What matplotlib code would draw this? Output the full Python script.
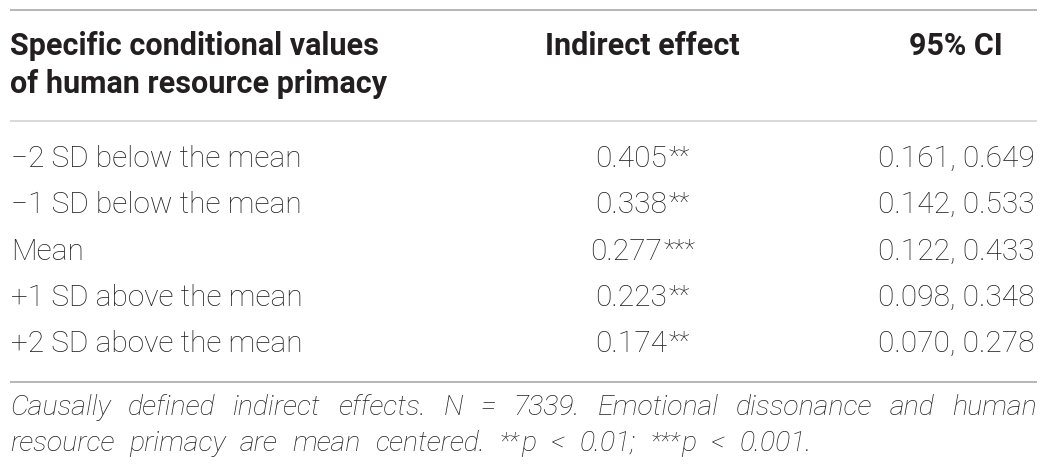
import matplotlib
matplotlib.use("Agg")
import matplotlib.pyplot as plt

# table content
header_first = ["Specific conditional values", "of human resource primacy"]
header_effect = "Indirect effect"
header_ci = "95% CI"
row_labels = ["\u22122 SD below the mean", "\u22121 SD below the mean", "Mean",
              "+1 SD above the mean", "+2 SD above the mean"]
indirect_effect = [0.405, 0.338, 0.277, 0.223, 0.174]
stars = ["**", "**", "***", "**", "**"]
ci_lower = [0.161, 0.142, 0.122, 0.098, 0.070]
ci_upper = [0.649, 0.533, 0.433, 0.348, 0.278]
note_lines = ["Causally defined indirect effects. N = 7339. Emotional dissonance and human",
              "resource primacy are mean centered. **p < 0.01; ***p < 0.001."]

FAM = ["Roboto", "DejaVu Sans"]
TXT = "#231f20"
FS = 21.5
FS_HEAD = 22
FS_NOTE = 20.5

W, H = 1050, 473
fig = plt.figure(figsize=(W / 100, H / 100), dpi=100)
ax = fig.add_axes([0, 0, 1, 1])
ax.set_xlim(0, W)
ax.set_ylim(H, 0)
ax.axis("off")
renderer = fig.canvas.get_renderer()

left, right = 10, 1037
col_effect, col_ci = 642, 956
y_head = [55, 93]
y_rows = [167, 213, 259.5, 306, 352]
y_note = [415, 451]
note_ends = [right, 812]


def put(x, y, s, size=FS, weight="light", style="normal", ha="left"):
    return ax.text(x, y, s, fontsize=size, fontweight=weight, fontstyle=style,
                   ha=ha, va="baseline", color=TXT, family=FAM)


def width(t):
    return t.get_window_extent(renderer=renderer).width


# rules
ax.hlines(10, left, right, color="#a7a9ac", lw=1.2)
ax.hlines(121, left, right, color="#d1d3d4", lw=1.2)
ax.hlines(382, left, right, color="#a7a9ac", lw=1.2)

# header
for y, line in zip(y_head, header_first):
    put(left, y, line, size=FS_HEAD, weight="bold")
put(col_effect, y_head[0], header_effect, size=FS_HEAD, weight="bold", ha="center")
put(col_ci, y_head[0], header_ci, size=FS_HEAD, weight="bold", ha="center")

# body
for y, lab, val, st, lo, hi in zip(y_rows, row_labels, indirect_effect, stars,
                                   ci_lower, ci_upper):
    put(left + 1, y, lab)
    num = put(0, y, f"{val:.3f}")
    sup = put(0, y - 2, st, size=FS * 0.85)
    wn, ws = width(num), width(sup)
    x0 = col_effect - (wn + ws) / 2
    num.set_x(x0)
    sup.set_x(x0 + wn + 1.5)
    put(col_ci, y, f"{lo:.3f}, {hi:.3f}", ha="center")


# footnote: words spread between left and the line end
def note_word(word, y):
    core = word.lstrip("*")
    parts = []
    if len(core) < len(word):
        parts.append(put(0, y - 2, word[:len(word) - len(core)],
                         size=FS_NOTE * 0.85, style="italic"))
    parts.append(put(0, y, core, size=FS_NOTE, style="italic"))
    return parts


for line, y, x_end in zip(note_lines, y_note, note_ends):
    words = [note_word(w_, y) for w_ in line.split()]
    wids = [[width(p) for p in parts] for parts in words]
    total = sum(sum(ws) + 1.5 * (len(ws) - 1) for ws in wids)
    gap = (x_end - left - total) / (len(words) - 1)
    x = left
    for parts, ws in zip(words, wids):
        for p, w_ in zip(parts, ws):
            p.set_x(x)
            x += w_ + 1.5
        x += gap - 1.5

fig.savefig("out.png", dpi=100)
